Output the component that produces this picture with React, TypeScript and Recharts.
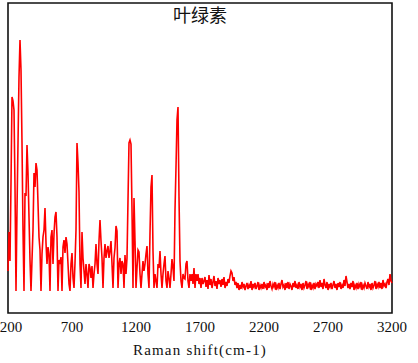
import React from 'react'
import { LineChart, Line, XAxis, YAxis, ReferenceArea } from 'recharts'

// Raman shift axis: uniform sampling, 200 -> 3200 cm-1
const shiftStart = 200
const shiftStep = 3000 / 384

// intensity (a.u.), low-shift band 200-1730 cm-1
const lowBand = [
  20, 59, 30, 108, 194, 190, 181, 104, 0, 81,
  148, 214, 251, 221, 148, 61, 0, 98, 95, 146,
  118, 74, 31, 0, 31, 61, 118, 104, 128, 121,
  88, 54, 41, 0, 37, 54, 61, 83, 48, 27,
  44, 37, 0, 54, 61, 27, 57, 74, 79, 54,
  0, 31, 27, 34, 0, 44, 51, 38, 54, 47,
  27, 7, 0, 27, 38, 13, 3, 28, 61, 148,
  128, 99, 27, 3, 59, 33, 20, 7, 27, 17,
  3, 27, 23, 13, 25, 3, 17, 27, 47, 27,
  17, 50, 71, 50, 33, 3, 33, 47, 33, 40,
  45, 33, 40, 50, 27, 3, 33, 43, 65, 60,
  3, 27, 33, 17, 30, 27, 3, 36, 17, 33,
  91, 148, 151, 147, 81, 3, 93, 50, 3, 23,
  41, 39, 17, 3, 17, 30, 20, 27, 37, 45,
  17, 3, 58, 104, 116, 40, 3, 17, 10, 3,
  27, 23, 40, 17, 3, 17, 27, 35, 10, 3,
  20, 13, 3, 17, 32, 23, 10, 81, 124, 171,
  184, 94, 30, 10, 3, 17, 13, 12, 27, 30,
  10, 3, 17, 10, 17, 7, 23, 3, 17, 10,
  17, 7, 13, 3, 13, 7, 10,
]

// high-shift band 1740-3200 cm-1 (mostly noise)
const highBand = [
  14, 4, 11, 2, 16, 6, 12, 3, 9, 15, 5, 10, 2, 13, 7, 11, 4, 12, 6, 14, 3, 9, 5, 12, 8, 15,
  20, 18, 10, 14, 6, 9,
  3, 8, 1, 6, 2, 9, 4, 7, 1, 5,
  8, 2, 6, 3, 10, 1, 7, 4, 8, 2,
  5, 9, 1, 6, 3, 7, 2, 9, 4, 6,
  1, 8, 3, 10, 5, 2, 7, 4, 9, 1,
  6, 3, 8, 2, 7, 11, 4, 6, 1, 8,
  3, 9, 2, 7, 5, 1, 8, 4, 10, 3,
  6, 2, 9, 4, 7, 1, 8, 3, 6, 10,
  2, 7, 4, 9, 1, 6, 3, 8, 2, 7,
  5, 9, 3, 11, 4, 8, 2, 12, 6, 3,
  9, 1, 7, 4, 8, 2, 6, 10, 3, 7,
  1, 8, 4, 9, 2, 6, 3, 11, 5, 15,
  9, 3, 7, 2, 8, 4, 10, 1, 6, 3,
  8, 2, 7, 4, 9, 1, 6, 3, 8, 5,
  2, 9, 4, 7, 1, 8, 3, 6, 10, 2,
  7, 4, 9, 3, 8, 2, 11, 5, 7, 3,
  9, 12, 6, 17, 10, 8,
]

const xTicks = [200, 700, 1200, 1700, 2200, 2700, 3200]

const chartData = [...lowBand, ...highBand].map((v, i) => ({
  shift: +(shiftStart + i * shiftStep).toFixed(2),
  intensity: v,
}))

const serif = '"Liberation Serif", "DejaVu Serif", serif'

// first label sits against the left edge, nudge it in a bit
const ShiftTick = ({ x, y, payload }: any) => (
  <text
    x={payload.value === 200 ? x + 3 : x}
    y={y}
    dy="0.71em"
    textAnchor="middle"
    fill="#111"
    fontSize={15}
    fontFamily={serif}
  >
    {payload.value}
  </text>
)

export default function App() {
  return (
    <div style={{ position: 'absolute', left: 0, top: 0, width: 418, height: 363 }}>
      <LineChart
        width={418}
        height={363}
        data={chartData}
        margin={{ top: 3, right: 26, left: 8, bottom: 0 }}
      >
        <XAxis
          dataKey="shift"
          type="number"
          domain={[200, 3200]}
          ticks={xTicks}
          interval={0}
          height={50}
          axisLine={false}
          tickLine={false}
          tick={<ShiftTick />}
          label={{
            value: 'Raman shift(cm-1)',
            position: 'insideBottom',
            offset: 8,
            fill: '#111',
            fontSize: 15,
            fontFamily: serif,
            letterSpacing: 1.2,
          }}
        />
        <YAxis hide domain={[-22, 288]} allowDataOverflow />
        <ReferenceArea
          x1={200}
          x2={3200}
          y1={-22}
          y2={288}
          fill="none"
          stroke="#111"
          strokeWidth={1.6}
          label={{
            value: '叶绿素',
            position: 'insideTop',
            offset: 6,
            fill: '#111',
            fontSize: 18,
            fontFamily: '"Noto Sans CJK SC", sans-serif',
          }}
        />
        <Line
          type="linear"
          dataKey="intensity"
          stroke="#ff0000"
          strokeWidth={1.6}
          dot={false}
          isAnimationActive={false}
        />
      </LineChart>
    </div>
  )
}
